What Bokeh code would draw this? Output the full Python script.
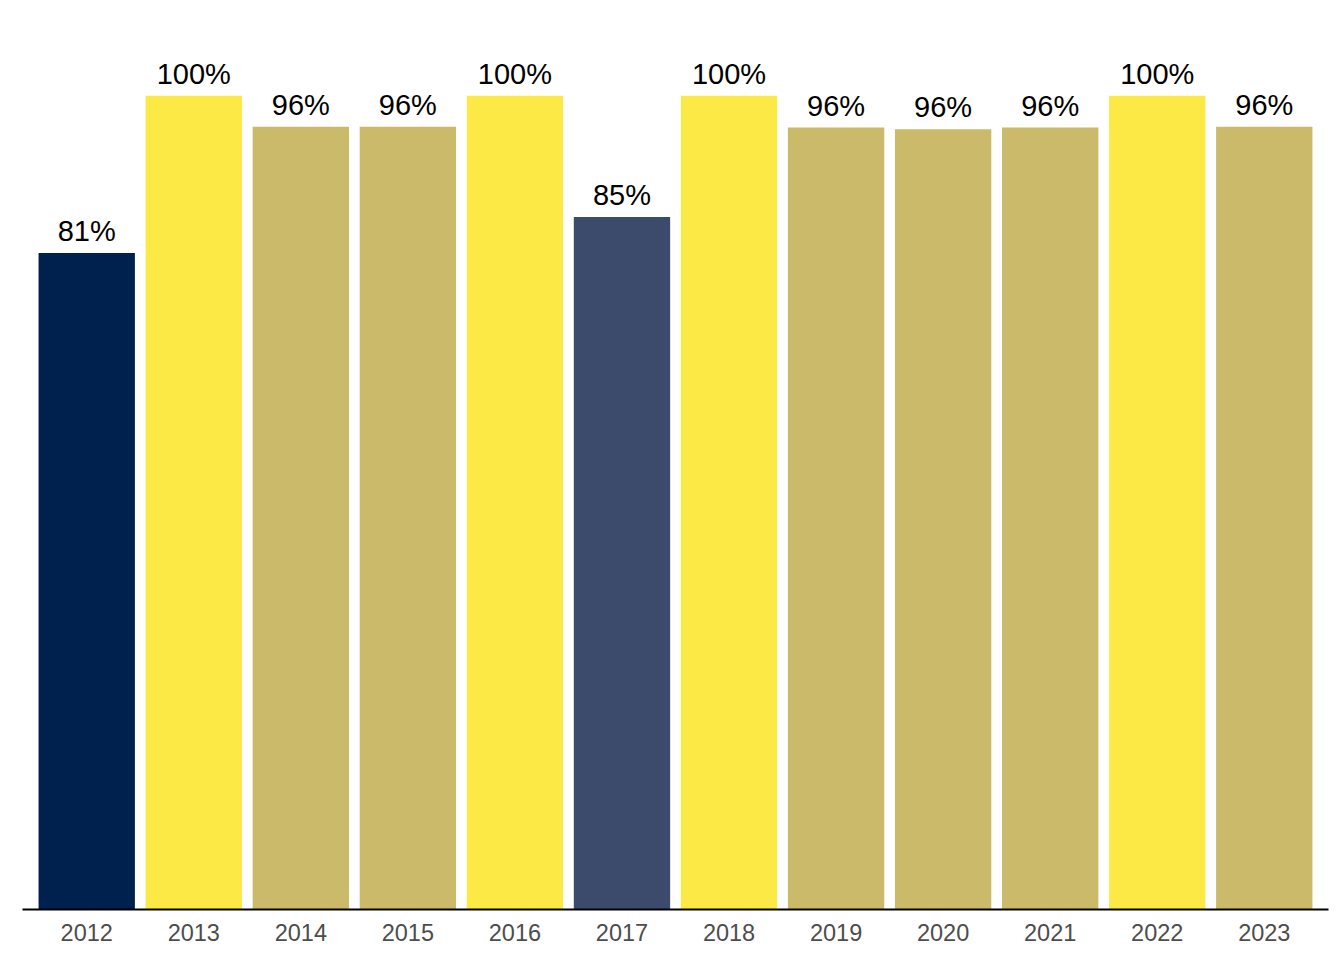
from bokeh.plotting import figure
from bokeh.models import ColumnDataSource, FactorRange, Range1d
from bokeh.core.properties import value
from bokeh.embed import file_html
from bokeh.resources import INLINE

years = ["2012", "2013", "2014", "2015", "2016", "2017", "2018", "2019", "2020", "2021", "2022", "2023"]
shares = [80.7, 100.0, 96.2, 96.2, 100.0, 85.1, 100.0, 96.1, 95.9, 96.1, 100.0, 96.2]
labels = ["81%", "100%", "96%", "96%", "100%", "85%", "100%", "96%", "96%", "96%", "100%", "96%"]
colors = ["#00204D", "#FDE945", "#CBBA69", "#CBBA69", "#FDE945", "#3C4A6B",
          "#FDE945", "#CBBA69", "#CBBA69", "#CBBA69", "#FDE945", "#CBBA69"]

src = ColumnDataSource(dict(year=years, share=shares, label=labels, color=colors))

xr = FactorRange(*years, range_padding=0.1, range_padding_units="absolute")
p = figure(x_range=xr, y_range=Range1d(0, 110), width=1336, height=952,
           output_backend="svg", toolbar_location=None,
           min_border_left=22, min_border_right=8, min_border_top=14, min_border_bottom=43)

p.vbar(x="year", top="share", width=0.9, color="color", source=src, line_color=None)
p.text(x="year", y="share", text="label", source=src, text_align="center",
       text_baseline="alphabetic", y_offset=-22, text_font=value("Liberation Sans"),
       text_font_size="29px", text_color="black")

p.yaxis.visible = False
p.xgrid.visible = False
p.ygrid.visible = False
p.outline_line_color = None
p.xaxis.axis_line_color = "black"
p.xaxis.axis_line_width = 2
p.xaxis.major_tick_line_color = None
p.xaxis.minor_tick_line_color = None
p.xaxis.major_label_text_font = "Liberation Sans"
p.xaxis.major_label_text_font_size = "23.5px"
p.xaxis.major_label_text_color = "#4D4D4D"
p.xaxis.major_label_standoff = 8

open("out.html", "w").write(file_html(p, INLINE))
